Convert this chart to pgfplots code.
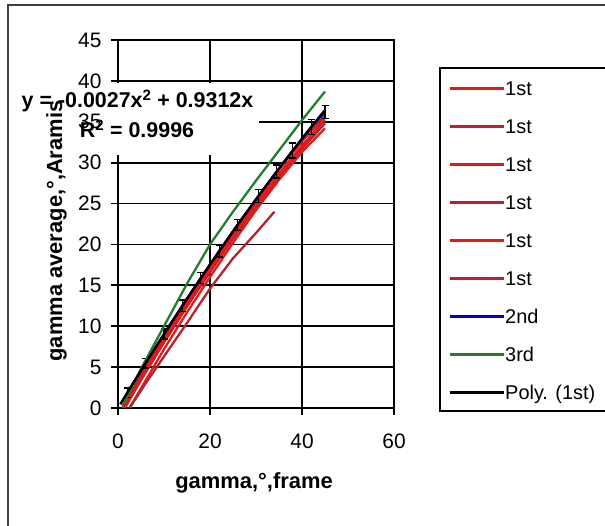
\documentclass[border=0pt]{standalone}
\usepackage{fontspec}
\setmainfont{Liberation Sans}
\usepackage{pgfplots}
\pgfplotsset{compat=1.18}
\definecolor{cred}{RGB}{230,25,25}
\definecolor{cdred}{RGB}{180,35,45}
\definecolor{cblue}{RGB}{0,0,210}
\definecolor{cgreen}{RGB}{35,125,45}
\begin{document}
\begin{tikzpicture}[x=1bp,y=1bp]
\useasboundingbox (0,0) rectangle (605,526);
\draw[line width=1.5bp, black!75] (8,-20) rectangle (640,521);
\begin{axis}[
  at={(118bp,118bp)}, anchor=south west,
  scale only axis, width=276bp, height=368bp,
  xmin=0, xmax=60, ymin=0, ymax=45,
  xtick={0,20,40,60}, ytick={0,5,...,45},
  grid=major, grid style={black, line width=1.8bp},
  axis line style={black, line width=1.8bp},
  tick align=outside, tick pos=left, major tick length=7bp,
  tick style={black, line width=1.8bp},
  /pgf/number format/assume math mode=true,
  ticklabel style={font=\fontsize{21}{21}\selectfont},
  xticklabel style={yshift=-15bp},
  yticklabel style={xshift=-6bp},
  xlabel={gamma,°,frame}, ylabel={gamma average,°,Aramis},
  label style={font=\bfseries\fontsize{22}{22}\selectfont},
  xlabel style={at={(axis description cs:0.4928,-0.2174)}, anchor=base},
  ylabel style={at={(axis description cs:-0.2029,0.481)}, anchor=base},
  legend cell align=left,
  legend style={draw=none, fill=none, inner sep=0pt,
    at={(axis description cs:1.1957,0.889)}, anchor=north west,
    font=\fontsize{20}{20}\selectfont, row sep=23.7bp, column sep=0bp,
    nodes={inner sep=0pt, text height=14.3bp, text depth=0bp}},
  legend image code/.code={\draw[#1, line width=3bp] (0bp,0bp) -- (54bp,0bp);},
]
\addplot[cred, line width=2.3bp] coordinates {(1,0) (5,3.9) (10,8.5) (15,12.9) (20,17.1) (25,21.1) (30,25) (35,28.7) (40,32.1) (45,35.2)};
\addlegendentry{1st}
\addplot[cdred, line width=2.3bp] coordinates {(1.5,0) (5,3.4) (10,8) (15,12.4) (20,16.6) (25,20.7) (30,24.6) (35,28.3) (40,31.7) (45,34.8)};
\addlegendentry{1st}
\addplot[cred, line width=2.3bp] coordinates {(2.5,0) (5,2.4) (10,7.2) (15,11.7) (20,16) (25,20.2) (30,24.2) (35,27.9) (40,31.3) (45,34.2)};
\addlegendentry{1st}
\addplot[cdred, line width=2.3bp] coordinates {(1,0.3) (5,4.2) (10,8.8) (15,13.3) (20,17.5) (25,21.6) (30,25.5) (35,29.2) (40,32.6) (45,35.8)};
\addlegendentry{1st}
\addplot[cred, line width=2.3bp] coordinates {(1.5,0.1) (5,3.6) (10,8.3) (15,12.7) (20,16.9) (25,20.9) (30,24.8) (35,28.5) (40,31.9) (45,35.5)};
\addlegendentry{1st}
\addplot[cdred, line width=2.3bp] coordinates {(2.5,0) (6,3) (10,6.3) (15,10.4) (20,14.6) (25,18.3) (30,21.4) (34,24)};
\addlegendentry{1st}
\addplot[cblue, line width=2.3bp, error bars/.cd, y dir=both, y explicit,
  error bar style={black, line width=1.3bp}, error mark options={black, line width=1.3bp, mark size=3.5bp, rotate=90}]
  coordinates {(2,1.852) +- (0,0.6) (6,5.490) +- (0,0.6) (10,9.042) +- (0,0.6) (14,12.508) +- (0,0.7) (18,15.887) +- (0,0.7) (22,19.180) +- (0,0.7) (26,22.386) +- (0,0.7) (30.5,25.890) +- (0,0.8) (34.5,28.912) +- (0,0.8) (38,31.487) +- (0,0.9) (42,34.347) +- (0,0.9) (45,36.2) +- (0,0.8)};
\addlegendentry{2nd}
\addplot[cgreen, line width=2.3bp] coordinates {(1,0.2) (5,4.8) (10,10) (15,15.2) (20,20) (25,24) (30,27.8) (35,31.5) (40,35.2) (45,38.7)};
\addlegendentry{3rd}
\addplot[black, line width=2.4bp] coordinates {(0.5,0.465) (2.5,2.311) (5,4.589) (7.5,6.832) (10,9.042) (12.5,11.218) (15,13.361) (17.5,15.469) (20,17.544) (22.5,19.585) (25,21.593) (27.5,23.566) (30,25.506) (32.5,27.412) (35,29.285) (37.5,31.123) (40,32.928) (42.5,34.699) (45,36.437)};
\addlegendentry{Poly. (1st)}
\end{axis}
\fill[white] (111,371) rectangle (259,443.3);
\node[anchor=base, inner sep=0pt, font=\bfseries\fontsize{21.5}{21.5}\selectfont] at (137.5,418) {y = -0.0027x\textsuperscript{2} + 0.9312x};
\node[anchor=base, inner sep=0pt, font=\bfseries\fontsize{21.5}{21.5}\selectfont] at (137,388) {R\textsuperscript{2} = 0.9996};
\draw[line width=1.5bp, black] (440,115) rectangle (650,458);
\end{tikzpicture}
\end{document}
